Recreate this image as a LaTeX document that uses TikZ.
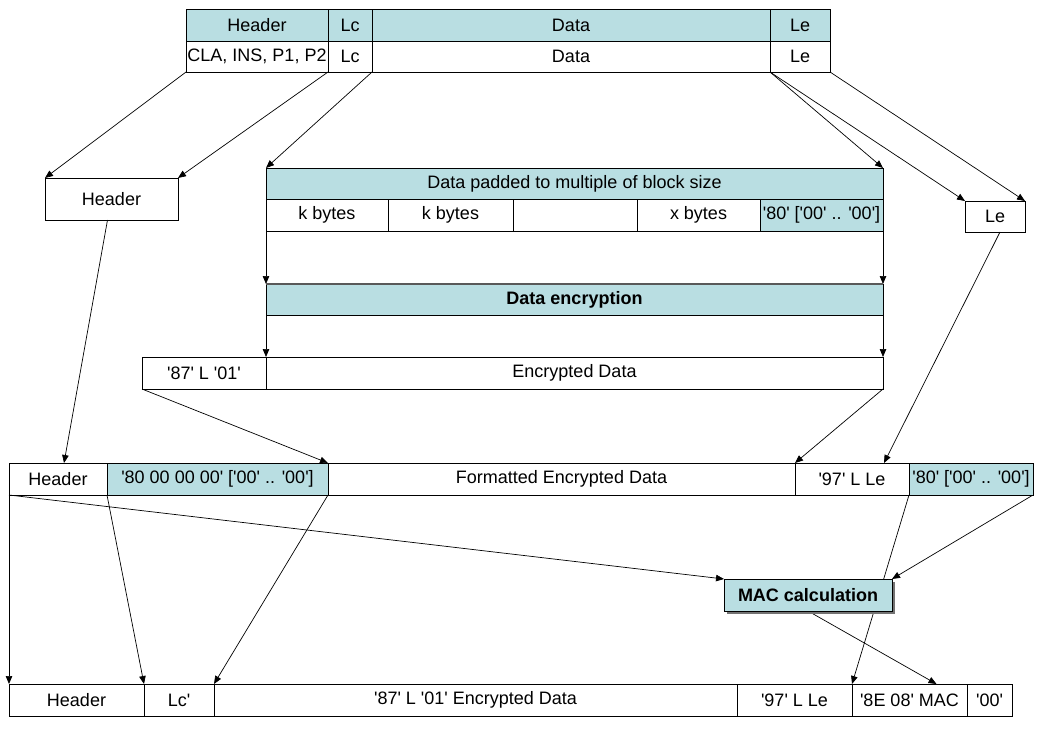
\documentclass[tikz,border=0pt]{standalone}
\usepackage{fontspec}
\setmainfont{Liberation Sans}[Ligatures=TeXOff]
\usetikzlibrary{arrows.meta,calc,shadows,backgrounds}
\definecolor{tealfill}{RGB}{185,222,226}
\newcommand\fsz{\fontsize{18}{20}\selectfont}
\tikzset{
  cell/.style={draw, line width=0.8pt, inner sep=0pt, outer sep=0pt, anchor=north west, font=\fsz},
  shaded/.style={fill=tealfill},
  arr/.style={line width=0.7pt, -{Triangle[length=8pt,width=6.5pt]}},
  ln/.style={line width=0.7pt}
}
\begin{document}
\begin{tikzpicture}[x=1pt,y=-1pt]
\useasboundingbox (0,0) rectangle (1040,728);

% top table
\node[cell, shaded, minimum width=142pt, minimum height=32pt] (hd1) at (186,9) {Header};
\node[cell, shaded, minimum width=44pt, minimum height=32pt] (lc1) at (328,9) {Lc};
\node[cell, shaded, minimum width=398pt, minimum height=32pt] (da1) at (372,9) {Data};
\node[cell, shaded, minimum width=60pt, minimum height=32pt] (le1) at (770,9) {Le};
\node[cell, minimum width=142pt, minimum height=31pt] (hd2) at (186,41) {CLA, INS, P1, P2};
\node[cell, minimum width=44pt, minimum height=31pt] (lc2) at (328,41) {Lc};
\node[cell, minimum width=398pt, minimum height=31pt] (da2) at (372,41) {Data};
\node[cell, minimum width=60pt, minimum height=31pt] (le2) at (770,41) {Le};

% header and Le boxes
\node[cell, minimum width=133pt, minimum height=42pt] (hbox) at (45,178) {Header};
\node[cell, minimum width=60pt, minimum height=31pt] (leb) at (965,201) {Le};

% padded data
\node[cell, shaded, minimum width=617pt, minimum height=31pt] (pad) at (266,168) {Data padded to multiple of block size};
\node[cell, minimum width=122pt, minimum height=32pt] (kb1) at (266,199) {k bytes};
\node[cell, minimum width=125pt, minimum height=32pt] (kb2) at (388,199) {k bytes};
\node[cell, minimum width=124pt, minimum height=32pt] (kb3) at (513,199) {};
\node[cell, minimum width=123pt, minimum height=32pt] (kb4) at (637,199) {x bytes};
\node[cell, shaded, minimum width=123pt, minimum height=32pt] (kb5) at (760,199) {'80' ['00' .. '00']};

% data encryption band
\node[cell, shaded, minimum width=617pt, minimum height=31pt, font=\fsz\bfseries] (denc) at (266,284) {Data encryption};
\draw[line width=1.6pt, black!65] (denc.north west) -- (denc.north east);

% encrypted data row
\node[cell, minimum width=124pt, minimum height=32pt] (e87) at (142,357) {'87' L '01'};
\node[cell, minimum width=617pt, minimum height=32pt] (encd) at (266,357) {Encrypted Data};

% formatted row
\node[cell, minimum width=98pt, minimum height=32pt] (fh) at (9,463) {Header};
\node[cell, shaded, minimum width=221pt, minimum height=32pt] (f80) at (107,463) {'80 00 00 00' ['00' .. '00']};
\node[cell, minimum width=467pt, minimum height=32pt] (fed) at (328,463) {Formatted Encrypted Data};
\node[cell, minimum width=114pt, minimum height=32pt] (f97) at (795,463) {'97' L Le};
\node[cell, shaded, minimum width=124pt, minimum height=32pt] (fpad) at (909,463) {'80' ['00' .. '00']};

% MAC calculation
\node[cell, shaded, minimum width=168pt, minimum height=32pt, font=\fsz\bfseries,
      drop shadow={shadow xshift=2.5pt, shadow yshift=-2.5pt, fill=black!55, opacity=1}] (mac) at (724,579) {MAC calculation};

% bottom row
\node[cell, minimum width=135pt, minimum height=32pt] (bh) at (9,684) {Header};
\node[cell, minimum width=70pt, minimum height=32pt] (blc) at (144,684) {Lc'};
\node[cell, minimum width=523pt, minimum height=32pt] (b87) at (214,684) {'87' L '01' Encrypted Data};
\node[cell, minimum width=115pt, minimum height=32pt] (b97) at (737,684) {'97' L Le};
\node[cell, minimum width=115pt, minimum height=32pt] (b8e) at (852,684) {'8E 08' MAC};
\node[cell, minimum width=45pt, minimum height=32pt] (b00) at (967,684) {'00'};

\begin{scope}[on background layer]
  \draw[arr] (hd2.south west) -- (hbox.north west);
  \draw[arr] (hd2.south east) -- (hbox.north east);
  \draw[arr] (da2.south west) -- (pad.north west);
  \draw[arr] (da2.south east) -- (pad.north east);
  \draw[arr] (da2.south east) -- (leb.north west);
  \draw[arr] (le2.south east) -- (leb.north east);
  \draw[arr] (kb1.south west) -- (denc.north west);
  \draw[arr] (kb5.south east) -- (denc.north east);
  \draw[arr] (denc.south west) -- (encd.north west);
  \draw[arr] (denc.south east) -- (encd.north east);
  \draw[arr] ($(hbox.south)+(-4,0)$) -- ($(fh.north)+(6,0)$);
  \draw[arr] (e87.south west) -- (f80.north east);
  \draw[arr] (encd.south east) -- (fed.north east);
  \draw[arr] ($(leb.south)+(5,0)$) -- ($(f97.north)+(32,0)$);
  \draw[arr] (fh.south west) -- (bh.north west);
  \draw[arr] (f80.south west) -- (blc.north west);
  \draw[arr] (f80.south east) -- (b87.north west);
  \draw[arr] (fh.south west) -- (mac.north west);
  \draw[arr] (f97.south east) -- (b8e.north west);
  \draw[arr] (fpad.south east) -- (mac.north east);
  \draw[arr] (mac.south) -- ($(b8e.north)+(27,0)$);
\end{scope}
\end{tikzpicture}
\end{document}
